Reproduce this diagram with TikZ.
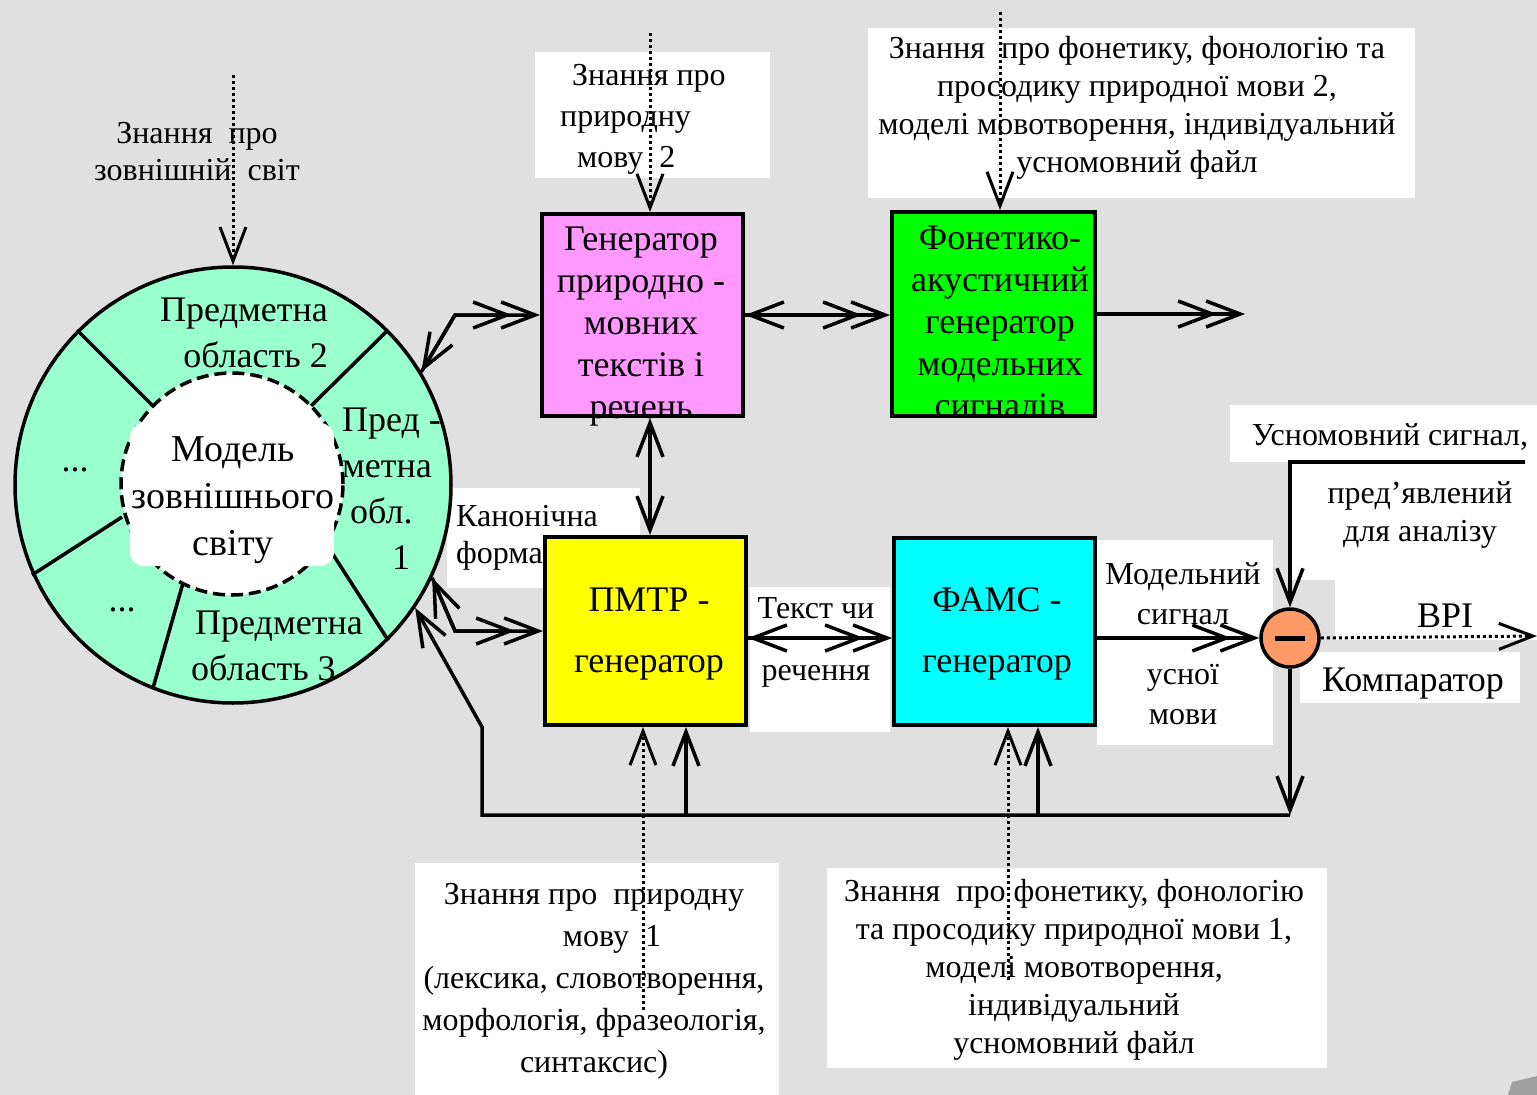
\documentclass[tikz,border=0pt]{standalone}
\usepackage{fontspec}
\setmainfont{Liberation Serif}
\usetikzlibrary{arrows.meta,calc}
\definecolor{bgc}{RGB}{224,224,224}
\definecolor{mint}{RGB}{153,255,204}
\definecolor{magbox}{RGB}{255,153,255}
\definecolor{grnbox}{RGB}{0,255,0}
\definecolor{yelbox}{RGB}{255,255,0}
\definecolor{cyanbox}{RGB}{0,255,255}
\definecolor{cmpc}{RGB}{255,153,102}
\tikzset{
  >={Straight Barb[length=34pt,width=26pt]},
  conn/.style={line width=3.5pt},
  dbl/.style={postaction={draw,-{Straight Barb[length=34pt,width=26pt]},shorten >=28pt}},
  dotline/.style={line width=3pt, dash pattern=on 3pt off 3pt},
  box/.style={draw, line width=4pt, inner sep=0pt},
  bigtxt/.style={align=center, inner sep=0pt, font=\fontsize{36}{42}\selectfont},
  ringtxt/.style={align=center, inner sep=0pt, font=\fontsize{36}{46}\selectfont},
  lbl/.style={align=center, inner sep=0pt, font=\fontsize{32}{38}\selectfont},
  wbg/.style={fill=white},
}
\begin{document}
\begin{tikzpicture}[x=1pt,y=-1pt]
\useasboundingbox (0,0) rectangle (1537,1095);
\fill[bgc] (0,0) rectangle (1537,1095);
\fill[gray!75] (1508,1095) -- (1512,1082) -- (1537,1076) -- (1537,1095) -- cycle;

% white label backgrounds
\fill[wbg] (535,52) rectangle (770,178);
\fill[wbg] (868,28) rectangle (1415,198);
\fill[wbg] (447,488) rectangle (640,588);
\fill[wbg] (750,587) rectangle (890,732);
\fill[wbg] (1097,540) rectangle (1273,745);
\fill[wbg] (1230,405) rectangle (1537,462);
\fill[wbg] (1290,462) rectangle (1537,580);
\fill[wbg] (1335,580) rectangle (1537,640);
\fill[wbg] (1300,652) rectangle (1520,703);
\fill[wbg] (415,863) rectangle (779,1095);
\fill[wbg] (827,868) rectangle (1327,1068);

% world model ring
\node[circle, draw, line width=3.5pt, fill=mint, minimum size=436pt, inner sep=0pt] (world) at (233,485) {};
\draw[line width=3.5pt] (77,330) -- (153,406);
\draw[line width=3.5pt] (388,330) -- (311,406);
\draw[line width=3.5pt] (32,575) -- (122,517);
\draw[line width=3.5pt] (153,688) -- (183,583);
\draw[line width=3.5pt] (388,640) -- (325,542);
\node[circle, draw, line width=3.5pt, dash pattern=on 12pt off 6pt, fill=white, minimum size=222pt, inner sep=0pt] (inner) at (232,484) {};
\fill[white, rounded corners=14pt] (130,423) rectangle (334,566);

% boxes
\node[box, fill=magbox, minimum width=201pt, minimum height=202pt] (mag) at (642.5,315) {};
\node[box, fill=grnbox, minimum width=203pt, minimum height=204pt] (grn) at (993.5,314) {};
\node[box, fill=yelbox, minimum width=201pt, minimum height=188pt] (yel) at (645.5,631) {};
\node[box, fill=cyanbox, minimum width=201pt, minimum height=187pt] (cyan) at (994.5,631.5) {};
\node[circle, draw, line width=3.5pt, fill=cmpc, minimum size=58pt, inner sep=0pt] (cmp) at (1290,638) {};
\draw[line width=5pt] ([xshift=-15pt]cmp.center) -- ([xshift=15pt]cmp.center);

% coordinates
\coordinate (vx) at (650,0);
\coordinate (kw) at (233,75);
\coordinate (k2) at (650,33);
\coordinate (k3) at (1000,12);
\coordinate (k4) at (643,1010);
\coordinate (k5) at (1008,980);
\coordinate (outG) at (1245,316);
\coordinate (outR) at (1537,636);
\coordinate (usnR) at (1525,462);
\coordinate (fb1) at (1290,815);
\coordinate (fbY) at (686,815);
\coordinate (fbC) at (1038,815);
\coordinate (fbL) at (482,815);

% connectors
\draw[conn,<->,dbl] (world.31) -- ([xshift=-85pt]mag.west) -- (mag.west);
\draw[conn,<->,dbl] (mag.east) -- (mag.east -| grn.west);
\draw[conn,->,dbl] (grn.east) -- (grn.east -| outG);
\draw[conn,<->] (mag.south -| vx) -- (yel.north -| vx);
\draw[conn,<->,dbl] (world.-25.5) -- ([xshift=-88pt]yel.west) -- (yel.west);
\draw[conn,<->,dbl] (yel.east |- cmp.west) -- (cyan.west |- cmp.west);
\draw[conn,->,dbl] (cyan.east |- cmp.west) -- (cmp.west);
\draw[dotline,->] (cmp.east) -- (outR);
\draw[conn,->] (usnR) -| (cmp.north);
\draw[conn,->] (cmp.south) -- (fb1);
\draw[conn,->] (fb1) -- (fbL) -- (482,727) -- (world.-34);
\draw[conn,->] (fbY) -- (fbY |- yel.south);
\draw[conn,->] (fbC) -- (fbC |- cyan.south);

\draw[dotline,->] (kw) -- (world.north);
\draw[dotline,->] (k2) -- (k2 |- mag.north);
\draw[dotline,->] (k3) -- (k3 |- grn.north);
\draw[dotline,->] (k4) -- (k4 |- yel.south);
\draw[dotline,->] (k5) -- (k5 |- cyan.south);

% texts
\node[bigtxt] (magtxt) at (641,327) {Генератор\\природно -\\мовних\\текстів і\\речень};
\node[bigtxt] (grntxt) at (1000,322) {Фонетико-\\акустичний\\генератор\\модельних\\сигналів};
\node[bigtxt] (yeltxt) at (649,634) {ПМТР -\\[19pt]генератор};
\node[bigtxt] (cyantxt) at (997,634) {ФАМС -\\[19pt]генератор};

\node[ringtxt, align=right, anchor=east] (pa2) at (328,333) {Предметна\\область 2};
\node[ringtxt, align=left, anchor=west] (pa3) at (191,646) {\hspace*{4pt}Предметна\\область 3};
\node[ringtxt, align=left, anchor=west] (pa1) at (342,489) {Пред -\\метна\\\hspace*{8pt}обл.\\\hspace*{50pt}1};
\node[ringtxt] (dots1) at (75,470) {...};
\node[ringtxt] (dots2) at (122,610) {...};
\node[align=center, inner sep=0pt, font=\fontsize{38}{47}\selectfont] (modtxt) at (233,500) {Модель\\зовнішнього\\світу};

\node[lbl, font=\fontsize{32}{37}\selectfont] (kwtxt) at (197,152) {Знання \ про\\зовнішній \ світ};
\node[lbl, align=left, anchor=west, font=\fontsize{32}{41}\selectfont] (k2txt) at (560,119) {\hspace*{12pt}Знання про\\природну\\\hspace*{17pt}мову \ 2};
\node[lbl] (k3txt) at (1137,108) {Знання \ про фонетику, фонологію та\\просодику природної мови 2,\\моделі мовотворення, індивідуальний\\усномовний файл};
\node[lbl, align=left, anchor=west, font=\fontsize{32}{37}\selectfont] (kantxt) at (456,538) {Канонічна\\форма};
\node[lbl] (tekst) at (816,642) {Текст чи\\[24pt]речення};
\node[lbl, font=\fontsize{32}{40}\selectfont] (modsig) at (1183,644) {Модельний\\сигнал\\[20pt]усної\\мови};
\node[lbl] (usn) at (1390,437) {Усномовний сигнал,};
\node[lbl] (pred) at (1420,515) {пред’явлений\\для аналізу};
\node[lbl, font=\fontsize{36}{42}\selectfont] (vri) at (1445,616) {ВРІ};
\node[lbl, font=\fontsize{36}{42}\selectfont] (komp) at (1413,684) {Компаратор};
\node[lbl, font=\fontsize{32}{42}\selectfont] (k4txt) at (594,981) {Знання про \ природну\\\hspace*{36pt}мову \ 1\\(лексика, словотворення,\\морфологія, фразеологія,\\синтаксис)};
\node[lbl] (k5txt) at (1074,970) {Знання \ про фонетику, фонологію\\та просодику природної мови 1,\\моделі мовотворення,\\індивідуальний\\усномовний файл};
\end{tikzpicture}
\end{document}
